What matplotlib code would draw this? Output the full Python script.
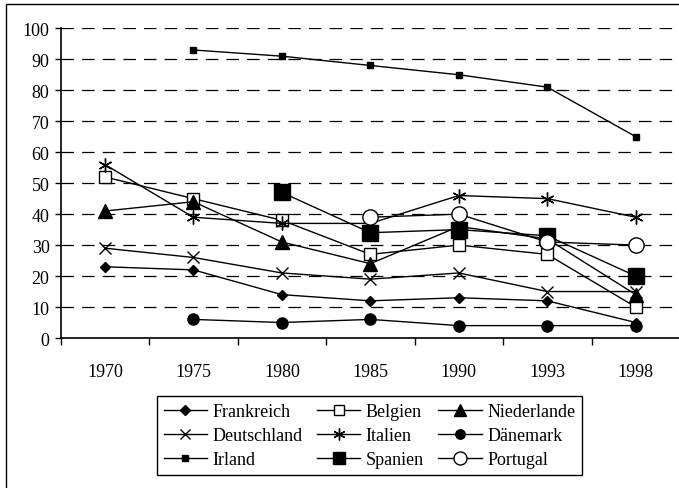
import numpy as np
import matplotlib
matplotlib.use("Agg")
import matplotlib.pyplot as plt
from matplotlib.patches import Rectangle

plt.rcParams['font.family'] = ['Liberation Serif', 'DejaVu Serif']
plt.rcParams['font.size'] = 13

# DATA ------------------------------------------------------------------------
years = ['1970', '1975', '1980', '1985', '1990', '1993', '1998']
nan = np.nan
frankreich  = [23, 22, 14, 12, 13, 12, 5]
belgien     = [52, 45, 38, 27, 30, 27, 10]
niederlande = [41, 44, 31, 24, 36, 32, 14]
deutschland = [29, 26, 21, 19, 21, 15, 15]
italien     = [56, 39, 37, 37, 46, 45, 39]
daenemark   = [nan, 6, 5, 6, 4, 4, 4]
irland      = [nan, 93, 91, 88, 85, 81, 65]
spanien     = [nan, nan, 47, 34, 35, 33, 20]
portugal    = [nan, nan, nan, 39, 40, 31, 30]

# FIGURE ----------------------------------------------------------------------
W, H = 679, 489
fig = plt.figure(figsize=(W/100, H/100), dpi=100)
ax = fig.add_axes([60.7/W, (H-339)/H, (680-60.7)/W, (339-29.3)/H])

x = np.arange(len(years))
styles = [
    ('Frankreich',  frankreich,  dict(marker='D', ms=5.5, mfc='k')),
    ('Belgien',     belgien,     dict(marker='s', ms=8, mfc='white')),
    ('Niederlande', niederlande, dict(marker='^', ms=10, mfc='k')),
    ('Deutschland', deutschland, dict(marker='x', ms=9, mew=1)),
    ('Italien',     italien,     dict(marker=(6, 2, 0), ms=10, mew=1)),
    ('Dänemark',    daenemark,   dict(marker='o', ms=8, mfc='k')),
    ('Irland',      irland,      dict(marker='s', ms=4.5, mfc='k')),
    ('Spanien',     spanien,     dict(marker='s', ms=11, mfc='k')),
    ('Portugal',    portugal,    dict(marker='o', ms=11, mfc='white')),
]
handles = {}
for name, vals, kw in styles:
    ln, = ax.plot(x, vals, color='k', lw=1, mec='k', label=name, **kw)
    handles[name] = ln

# axes styling
ax.set_xlim(-0.5, 6.5)
ax.set_ylim(0, 100)
ax.set_yticks(np.arange(0, 101, 10))
ax.set_xticks(np.arange(-0.5, 7, 1))
ax.set_xticklabels([])
ax.set_xticks(x, minor=True)
ax.set_xticklabels(years, minor=True)
ax.tick_params(axis='x', which='major', direction='out', length=5, width=1)
ax.tick_params(axis='x', which='minor', length=0, pad=18)
ax.tick_params(axis='y', direction='out', length=4, width=1, pad=4)
for s in ['top', 'right']:
    ax.spines[s].set_visible(False)
for s in ['left', 'bottom']:
    ax.spines[s].set_linewidth(1.2)
for v in range(10, 101, 10):
    ax.axhline(v, color='k', lw=0.9, ls=(0, (10, 6.5)), zorder=0)
for ln in handles.values():
    ln.set_clip_on(False)

# outer chart border
fig.add_artist(Rectangle((6/W, -0.2), 2, 1.2 - 5/H, transform=fig.transFigure,
                         fill=False, ec='k', lw=1))

# legend, filled row-wise like the original
order = ['Frankreich', 'Deutschland', 'Irland',
         'Belgien', 'Italien', 'Spanien',
         'Niederlande', 'Dänemark', 'Portugal']
leg = fig.legend([handles[n] for n in order], order, ncol=3,
                 loc='center', bbox_to_anchor=((152+587)/2/W, 1-(395+478)/2/H),
                 frameon=True, fancybox=False, edgecolor='k', framealpha=1,
                 handlelength=2.4, handletextpad=0.3, columnspacing=0.8,
                 labelspacing=0.38, borderpad=0.4, borderaxespad=0,
                 markerscale=0.85)
leg.get_frame().set_linewidth(1)

fig.savefig("out.png", dpi=100)
